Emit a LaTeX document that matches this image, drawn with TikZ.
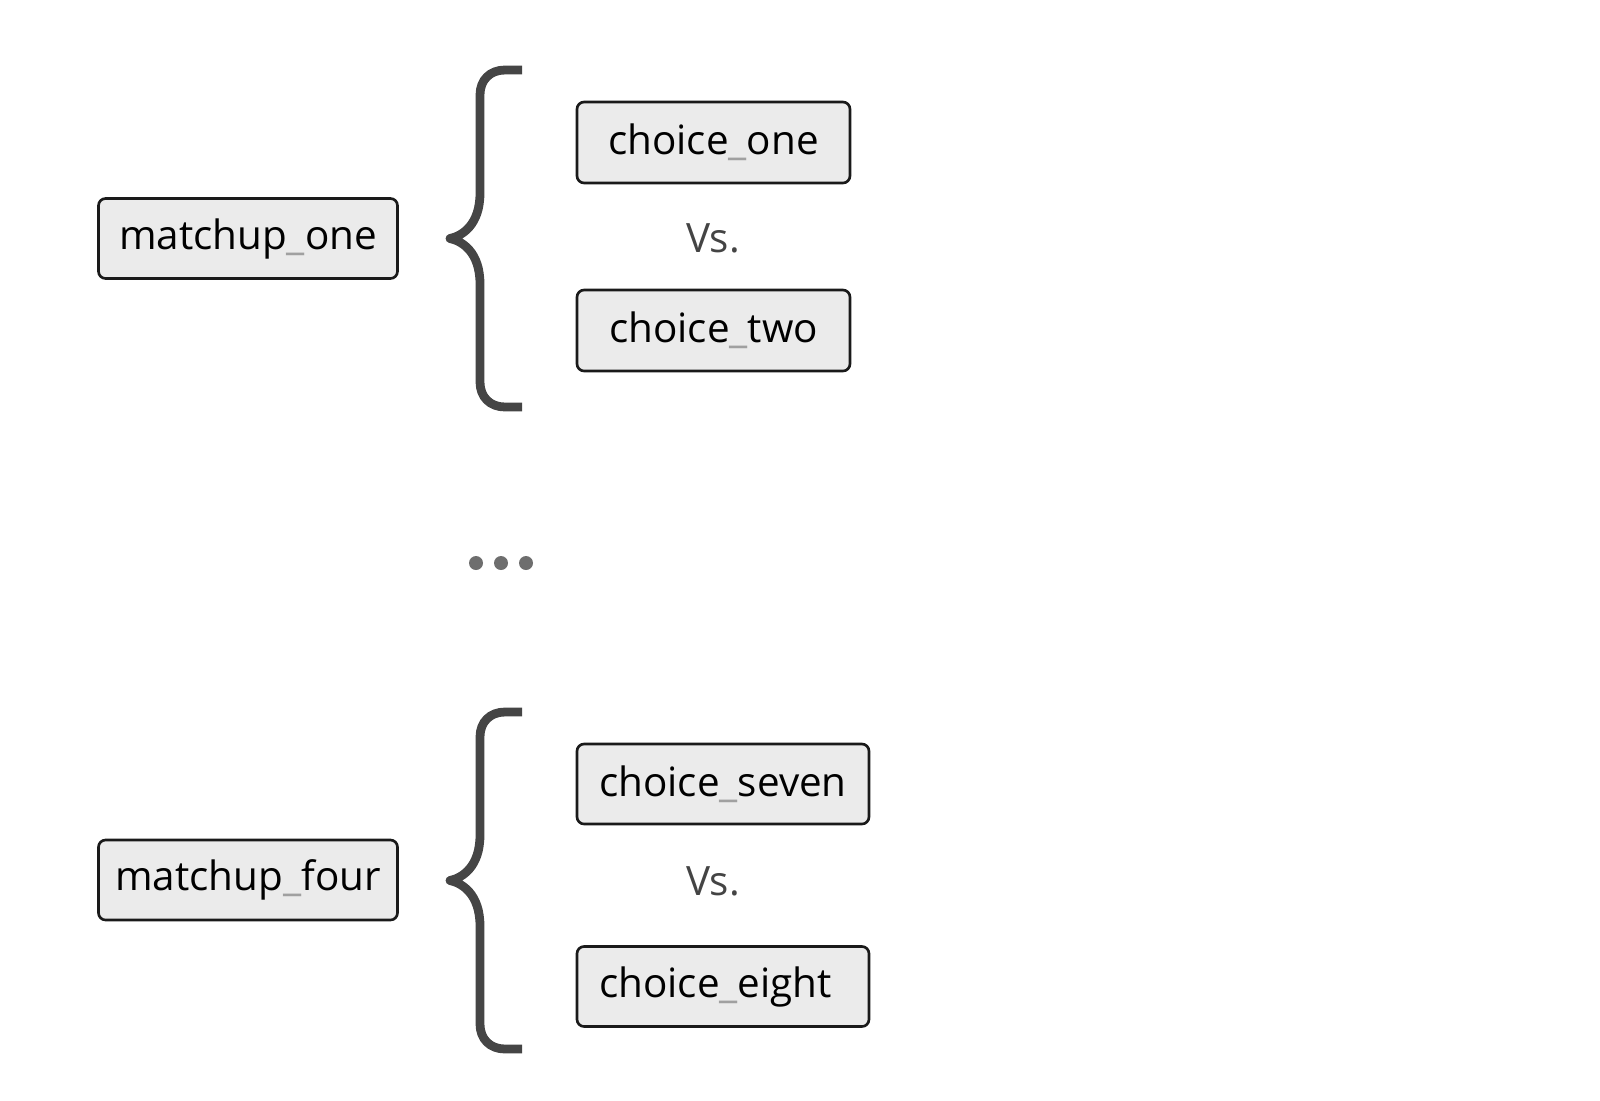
\documentclass[tikz,border=0pt]{standalone}
\usepackage{fontspec}
\setmainfont{Open Sans}
\usetikzlibrary{positioning}

\definecolor{boxfill}{HTML}{EBEBEB}
\definecolor{boxline}{HTML}{1A1A1A}
\definecolor{bracecol}{HTML}{454545}
\definecolor{dotcol}{HTML}{6E6E6E}
\definecolor{vscol}{HTML}{444444}
\definecolor{uscol}{HTML}{A0A0A0}

\newcommand{\us}{{\color{uscol}\_}}

\tikzstyle{matchup} = [rectangle, rounded corners=0.14cm, draw=boxline, fill=boxfill, line width=1.5pt, minimum width=5.98cm, minimum height=1.6cm, text centered, font=\fontsize{23}{27}\selectfont]
\tikzstyle{choice} = [matchup, minimum width=5.46cm, minimum height=1.62cm]
\tikzstyle{choicewide} = [matchup, minimum width=5.84cm]
\tikzstyle{versus} = [text=vscol, font=\fontsize{23}{27}\selectfont]
\tikzstyle{brace} = [draw=bracecol, line width=5pt, line join=round]

\begin{document}
\begin{tikzpicture}[x=0.02cm, y=-0.02cm]
\useasboundingbox (0,0) rectangle (1600,1100);

% First matchup
\node (matchup_one) [matchup] at (248,238.5) {matchup\us one};
\node (vs_one) [versus] at (713,238) {Vs.};
\node (choice_one) [choice] at (713.5,142.5) {choice\us one};
\node (choice_two) [choice] at (713.5,330.5) {choice\us two};
\draw [brace] (522,70) -- (505,70) .. controls (490,70) and (480,80) .. (480,95)
  -- (480,193) .. controls (480,225) and (462,236) .. (450,238.5)
  .. controls (462,241) and (480,252) .. (480,284) -- (480,382)
  .. controls (480,397) and (490,407) .. (505,407) -- (522,407);

% Dots in between
\foreach \x in {476,501,526}
  \fill [dotcol] (\x,563) circle (0.14cm);

% Fourth matchup
\node (matchup_four) [matchup] at (248,880) {matchup\us four};
\node (vs_four) [versus] at (713,881) {Vs.};
\node (choice_seven) [choicewide] at (723,784) {choice\us seven};
\node (choice_eight) [choicewide] at (723,986.5) {\rlap{choice\us eight}\phantom{choice\us seven}};
\draw [brace] (522,712) -- (505,712) .. controls (490,712) and (480,722) .. (480,737)
  -- (480,835) .. controls (480,867) and (462,878) .. (450,880.5)
  .. controls (462,883) and (480,894) .. (480,926) -- (480,1024)
  .. controls (480,1039) and (490,1049) .. (505,1049) -- (522,1049);

\end{tikzpicture}
\end{document}
